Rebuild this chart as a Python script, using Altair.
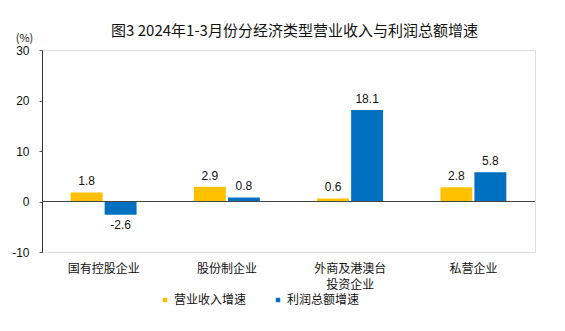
import altair as alt
import pandas as pd

categories = ["国有控股企业", "股份制企业", "外商及港澳台投资企业", "私营企业"]
series_names = ["营业收入增速", "利润总额增速"]
revenue = [1.8, 2.9, 0.6, 2.8]
profit = [-2.6, 0.8, 18.1, 5.8]
colors = ["#FFC000", "#0070C0"]

rows = []
for c, r, p in zip(categories, revenue, profit):
    rows.append({"cat": c, "series": series_names[0], "v": r, "lbl": f"{r:.1f}"})
    rows.append({"cat": c, "series": series_names[1], "v": p, "lbl": f"{p:.1f}"})
df = pd.DataFrame(rows)

CJK = "Noto Sans CJK SC"
NUM = "Liberation Sans"

x_enc = alt.X(
    "cat:N",
    sort=categories,
    scale=alt.Scale(paddingInner=0.465, paddingOuter=0.2325),
    axis=alt.Axis(
        title=None,
        domain=False,
        ticks=False,
        labelAngle=0,
        labelFont=CJK,
        labelFontSize=12,
        labelColor="#111",
        labelPadding=11,
        labelLineHeight=16,
        labelExpr="datum.label == '外商及港澳台投资企业' ? ['外商及港澳台', '投资企业'] : datum.label",
    ),
)
xoff = alt.XOffset("series:N", sort=series_names, scale=alt.Scale(paddingInner=0.06, paddingOuter=0))
y_enc = alt.Y(
    "v:Q",
    scale=alt.Scale(domain=[-10, 30], nice=False),
    axis=alt.Axis(
        values=[-10, 0, 10, 20, 30],
        labelExpr="'' + datum.value",
        grid=False,
        title="(%)",
        titleAngle=0,
        titleX=-18,
        titleY=-12,
        titleAlign="center",
        titleBaseline="middle",
        titleFont=CJK,
        titleFontSize=11,
        titleFontWeight="normal",
        titleColor="#111",
        labelFont=NUM,
        labelFontSize=12,
        labelColor="#111",
        labelPadding=10,
        tickSize=3,
        tickColor="#555",
        domainColor="#333",
    ),
)

base = alt.Chart(df)

bars = base.mark_bar().encode(
    x=x_enc,
    xOffset=xoff,
    y=y_enc,
    color=alt.Color(
        "series:N",
        sort=series_names,
        scale=alt.Scale(domain=series_names, range=colors),
        legend=alt.Legend(
            title=None,
            orient="none",
            direction="horizontal",
            legendX=117,
            legendY=244,
            symbolType="square",
            symbolSize=20,
            symbolStrokeWidth=0,
            labelFont=CJK,
            labelFontSize=12,
            labelColor="#111",
            labelOffset=3,
            columnPadding=25,
            padding=0,
        ),
    ),
)

pos_labels = base.transform_filter("datum.v >= 0").mark_text(
    font=NUM, fontSize=12, color="#111", baseline="middle", dy=-11
).encode(
    x=alt.X("cat:N", sort=categories),
    xOffset=xoff,
    y="v:Q",
    text="lbl:N",
)
neg_labels = base.transform_filter("datum.v < 0").mark_text(
    font=NUM, fontSize=12, color="#111", baseline="middle", dy=10
).encode(
    x=alt.X("cat:N", sort=categories),
    xOffset=xoff,
    y="v:Q",
    text="lbl:N",
)

zero = alt.Chart(pd.DataFrame({"z": [0]})).mark_rule(color="#444", strokeWidth=1).encode(y="z:Q")

chart = (
    alt.layer(bars, zero, pos_labels, neg_labels)
    .properties(
        width=493,
        height=202,
        autosize=alt.AutoSizeParams(type="none"),
        padding={"left": 42, "top": 50, "right": 30, "bottom": 79},
        title=alt.TitleParams(
            "图3  2024年1-3月份分经济类型营业收入与利润总额增速",
            font=CJK,
            fontSize=15,
            fontWeight="normal",
            color="#111",
            anchor="middle",
            dx=6,
            offset=-7,
        ),
    )
    .configure_view(stroke="#888", strokeWidth=1)
    .configure(background="white")
)

chart.save("out.html", embed_options={"renderer": "svg", "actions": False})
